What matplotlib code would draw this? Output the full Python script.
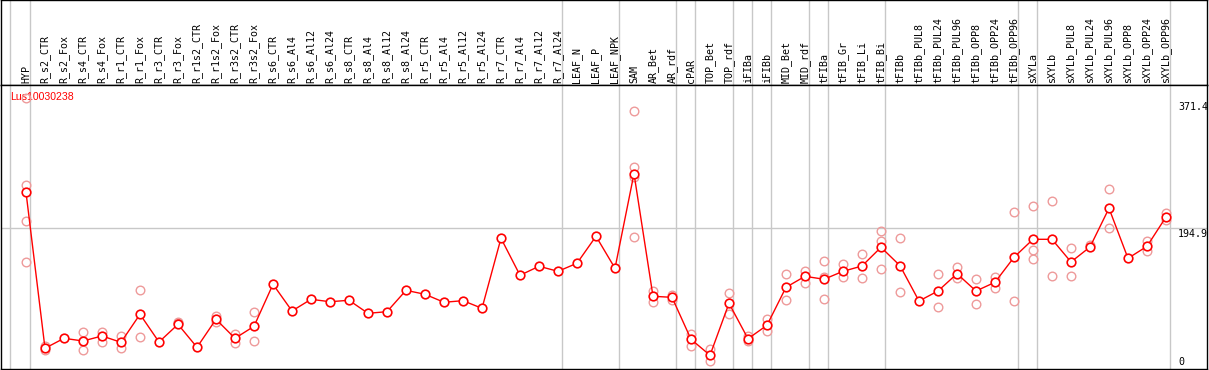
import matplotlib
matplotlib.use("Agg")
import matplotlib.pyplot as plt
import matplotlib.transforms as mtransforms

# ---------------- data ----------------
gene_id = "Lus10030238"

samples = [
    "HYP", "R_s2_CTR", "R_s2_Fox", "R_s4_CTR", "R_s4_Fox", "R_r1_CTR", "R_r1_Fox",
    "R_r3_CTR", "R_r3_Fox", "R_r1s2_CTR", "R_r1s2_Fox", "R_r3s2_CTR", "R_r3s2_Fox",
    "R_s6_CTR", "R_s6_Al4", "R_s6_Al12", "R_s6_Al24", "R_s8_CTR", "R_s8_Al4",
    "R_s8_Al12", "R_s8_Al24", "R_r5_CTR", "R_r5_Al4", "R_r5_Al12", "R_r5_Al24",
    "R_r7_CTR", "R_r7_Al4", "R_r7_Al12", "R_r7_Al24", "LEAF_N", "LEAF_P", "LEAF_NPK",
    "SAM", "AR_Bet", "AR_rdf", "cPAR", "TOP_Bet", "TOP_rdf", "iFIBa", "iFIBb",
    "MID_Bet", "MID_rdf", "tFIBa", "tFIB_Gr", "tFIB_Li", "tFIB_Bi", "tFIBb",
    "tFIBb_PUL8", "tFIBb_PUL24", "tFIBb_PUL96", "tFIBb_OPP8", "tFIBb_OPP24",
    "tFIBb_OPP96", "sXYLa", "sXYLb", "sXYLb_PUL8", "sXYLb_PUL24", "sXYLb_PUL96",
    "sXYLb_OPP8", "sXYLb_OPP24", "sXYLb_OPP96",
]

mean_values = [
    247.2, 20.0, 34.5, 30.6, 37.9, 28.7, 69.5,
    29.1, 54.9, 21.4, 62.2, 34.5, 52.0,
    113.2, 74.3, 91.3, 87.8, 89.9, 70.9,
    73.3, 104.4, 98.6, 87.0, 89.3, 78.2,
    180.2, 126.3, 139.4, 132.1, 143.8, 183.1, 136.5,
    274.3, 95.7, 94.2, 33.1, 9.8, 85.5, 33.9, 53.5,
    108.8, 124.8, 120.5, 132.1, 139.8, 167.1, 140.3,
    88.8, 103.4, 128.6, 103.4, 116.1,
    152.5, 178.7, 178.7, 145.7, 167.5, 223.9,
    151.0, 168.5, 211.2,
]

replicate_values = [
    [384.5, 257.8, 205.4, 145.7], [23.3, 17.5], [], [43.7, 17.0], [44.1, 29.6],
    [37.9, 20.0], [104.9, 36.0],
    [], [58.7, 56.8], [], [67.4, 57.8], [40.3, 28.1], [73.3, 30.6],
    [], [], [], [], [], [],
    [], [], [], [], [], [],
    [], [], [], [], [], [], [],
    [365.1, 284.5, 269.0, 181.6], [103.4, 87.4], [98.0, 90.3], [40.8, 23.3],
    [18.9, 1.9], [100.5, 69.9], [37.9, 30.1], [63.1, 45.6],
    [127.7, 89.9], [132.1, 115.5], [146.7, 91.3, 124.2], [142.7, 124.2],
    [157.3, 121.9], [190.8, 176.2, 135.0], [180.2, 101.5],
    [], [127.7, 79.7], [138.8, 121.9], [120.5, 84.5], [124.2, 108.2],
    [218.0, 88.4], [227.2, 163.1, 149.6], [234.5, 125.3], [166.0, 125.3],
    [170.8], [251.5, 194.7],
    [], [175.8, 161.7], [216.6, 206.8],
]

# columns after which a group separator is drawn
group_ends = [0, 28, 31, 34, 35, 37, 38, 39, 41, 42, 45, 52, 53, 60]
y_max_label = 371.4
y_mid_label = 194.9

# ---------------- layout ----------------
W, H = 1209, 370
fig = plt.figure(figsize=(W / 100, H / 100), dpi=100)

x0_px, x1_px = 1, 1207
col0_px, col_step = 26, 19
xlim = ((x0_px - col0_px) / col_step, (x1_px - col0_px) / col_step)

top_px, mid_px, bot_px = 0, 85, 369
zero_px, px_per_unit = 362, 0.6866
ylim = ((zero_px - bot_px) / px_per_unit, (zero_px - mid_px) / px_per_unit)

ax_head = fig.add_axes([x0_px / W, (H - mid_px) / H, (x1_px - x0_px) / W, (mid_px - top_px) / H])
ax = fig.add_axes([x0_px / W, (H - bot_px) / H, (x1_px - x0_px) / W, (bot_px - mid_px) / H])

grid_col = "#c8c8c8"
for a in (ax_head, ax):
    a.set_xlim(*xlim)
    a.set_xticks([])
    a.set_yticks([])
    for s in a.spines.values():
        s.set_color("black")
        s.set_linewidth(1.0)
    a.axvline(-0.84, color=grid_col, lw=1.0, zorder=0)
    for g in group_ends:
        a.axvline(g + 0.22, color=grid_col, lw=1.0, zorder=0)

ax_head.set_ylim(0, 1)
ax.set_ylim(*ylim)

mono = "DejaVu Sans Mono"
trans_h = mtransforms.blended_transform_factory(ax_head.transData, ax_head.transAxes)
for i, name in enumerate(samples):
    ax_head.text(i, 2 / 85, name, rotation=90, ha="center", va="bottom",
                 fontsize=7.2, family=mono, transform=trans_h)

ax.axhline(y_mid_label, color=grid_col, lw=1.0, zorder=0)

xs = list(range(len(samples)))
rep_x, rep_y = [], []
for i, reps in enumerate(replicate_values):
    for v in reps:
        rep_x.append(i)
        rep_y.append(v)
ax.plot(rep_x, rep_y, linestyle="none", marker="o", markersize=6.2,
        markerfacecolor="none", markeredgecolor="#ee9a9a", markeredgewidth=1.0,
        zorder=3, clip_on=False)

ax.plot(xs, mean_values, color="red", lw=1.0, marker="o", markersize=6.2,
        markerfacecolor="white", markeredgecolor="red", markeredgewidth=1.2, zorder=4)

ax.text(9 / 1206, 1 - (97.5 - mid_px) / (bot_px - mid_px), gene_id, color="red",
        fontsize=7.6, family="Liberation Sans", ha="left", va="center",
        transform=ax.transAxes, zorder=2)

xl = (1178 - col0_px) / col_step
ax.text(xl, y_max_label, f"{y_max_label}", fontsize=7.2, family=mono, ha="left", va="center")
ax.text(xl, y_mid_label - 0.5, f"{y_mid_label}", fontsize=7.2, family=mono, ha="left", va="top")
ax.text(xl, 0, "0", fontsize=7.2, family=mono, ha="left", va="center")

fig.savefig("out.png", dpi=100)
